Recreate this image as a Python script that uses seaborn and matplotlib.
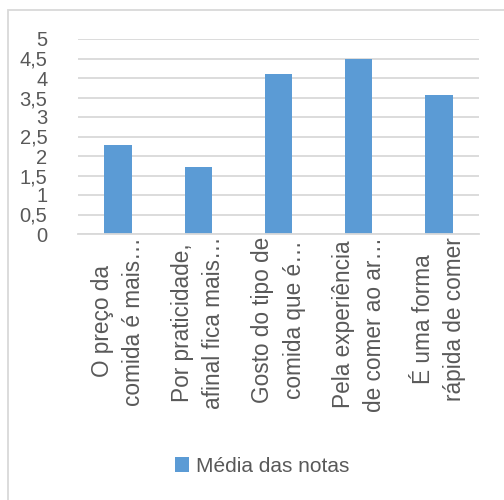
import matplotlib
matplotlib.use("Agg")
import matplotlib.pyplot as plt
import seaborn as sns
import pandas as pd
from matplotlib.patches import Rectangle

categories = [
    "O preço da\ncomida é mais…",
    "Por praticidade,\nafinal fica mais…",
    "Gosto do tipo de\ncomida que é…",
    "Pela experiência\nde comer ao ar…",
    "É uma forma\nrápida de comer",
]
values = [2.28, 1.73, 4.10, 4.48, 3.56]
series_name = "Média das notas"
yticks = [0, 0.5, 1, 1.5, 2, 2.5, 3, 3.5, 4, 4.5, 5]
ytick_labels = ["0", "0,5", "1", "1,5", "2", "2,5", "3", "3,5", "4", "4,5", "5"]

sns.set_style("white")
plt.rcParams["font.family"] = ["Liberation Sans", "DejaVu Sans"]

text_color = "#595959"
bar_color = "#5B9BD5"
grid_color = "#D9D9D9"

df = pd.DataFrame({"cat": categories, "val": values, "series": series_name})

fig = plt.figure(figsize=(5.04, 5.0), dpi=100)
ax = fig.add_axes([78 / 504, 1 - 234 / 500, (479 - 78) / 504, (234 - 39) / 500])

sns.barplot(data=df, x="cat", y="val", hue="series", palette=[bar_color],
            width=0.34, ax=ax, legend=True, saturation=1, edgecolor="none")

ax.set_ylim(0, 5)
ax.set_xlim(-0.5, 4.5)
ax.set_yticks(yticks)
ax.set_yticklabels(ytick_labels, fontsize=14.5, color=text_color)
ax.tick_params(axis="y", length=0, pad=22)
ax.tick_params(axis="x", length=0, pad=2)
ax.set_xticks(range(len(categories)))
ax.set_xticklabels(categories, rotation=90, fontsize=16.3, color=text_color,
                   ha="center", va="top", multialignment="center", linespacing=1.45)
for lab in ax.get_yticklabels():
    lab.set_horizontalalignment("right")
ax.yaxis.grid(True, color=grid_color, linewidth=1.3)
ax.set_axisbelow(True)
for s in ["left", "right", "top"]:
    ax.spines[s].set_visible(False)
ax.spines["bottom"].set_color(grid_color)
ax.spines["bottom"].set_linewidth(1.3)
ax.set_xlabel("")
ax.set_ylabel("")

leg = ax.legend(loc="center", bbox_to_anchor=(262 / 504, 1 - 466 / 500),
                bbox_transform=fig.transFigure, frameon=False, fontsize=15,
                handlelength=0.7, handleheight=0.7, handletextpad=0.3)
for t in leg.get_texts():
    t.set_color(text_color)

# chart area border
fig.patches.append(Rectangle((8 / 504, -0.1), 1.2, 1 - 10 / 500 + 0.1,
                             transform=fig.transFigure, fill=False,
                             edgecolor=grid_color, linewidth=1.3))

fig.savefig("out.png", dpi=100)
